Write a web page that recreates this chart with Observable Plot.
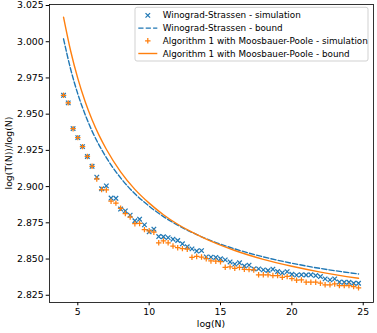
<!DOCTYPE html>
<html><head><meta charset="utf-8">
<script src="https://cdn.jsdelivr.net/npm/d3@7"></script>
<script src="https://cdn.jsdelivr.net/npm/@observablehq/plot@0.6"></script>
<style>
html,body{margin:0;padding:0;background:#fff;}
#chart svg{display:block;}
</style>
</head><body>
<div id="chart"></div>
<script>
// ---- data ----
const simX = [4, 4.33, 4.67, 5, 5.33, 5.67, 6, 6.33, 6.67, 7, 7.33, 7.67, 8, 8.33, 8.67, 9, 9.33, 9.67,
  10, 10.33, 10.67, 11, 11.33, 11.67, 12, 12.33, 12.67, 13, 13.33, 13.67, 14, 14.33, 14.67,
  15, 15.33, 15.67, 16, 16.33, 16.67, 17, 17.33, 17.67, 18, 18.33, 18.67, 19, 19.33, 19.67,
  20, 20.33, 20.67, 21, 21.33, 21.67, 22, 22.33, 22.67, 23, 23.33, 23.67, 24, 24.33, 24.67];

const wsSim = [2.9630, 2.9578, 2.9400, 2.9338, 2.9276, 2.9208, 2.9140, 2.9065, 2.8985, 2.9005,
  2.8921, 2.8919, 2.8845, 2.8832, 2.8803, 2.8764, 2.8775, 2.8736, 2.8688, 2.8706,
  2.8655, 2.8654, 2.8648, 2.8637, 2.8628, 2.8605, 2.8585, 2.8570, 2.8555, 2.8558,
  2.8515, 2.8513, 2.8511, 2.8502, 2.8494, 2.8480, 2.8465, 2.8474, 2.8452, 2.8458,
  2.8432, 2.8432, 2.8425, 2.8421, 2.8430, 2.8414, 2.8405, 2.8413, 2.8395, 2.8389,
  2.8391, 2.8390, 2.8391, 2.8386, 2.8379, 2.8363, 2.8356, 2.8363, 2.8341, 2.8340,
  2.8340, 2.8333, 2.8333];

const mpSim = [2.9630, 2.9578, 2.9400, 2.9338, 2.9276, 2.9208, 2.9140, 2.9053, 2.8980, 2.8977,
  2.8899, 2.8886, 2.8850, 2.8814, 2.8790, 2.8744, 2.8746, 2.8703, 2.8695, 2.8685,
  2.8612, 2.8625, 2.8612, 2.8590, 2.8578, 2.8572, 2.8568, 2.8512, 2.8518, 2.8514,
  2.8502, 2.8487, 2.8485, 2.8482, 2.8443, 2.8446, 2.8436, 2.8442, 2.8429, 2.8427,
  2.8425, 2.8391, 2.8391, 2.8391, 2.8386, 2.8386, 2.8374, 2.8380, 2.8365, 2.8354,
  2.8356, 2.8340, 2.8340, 2.8340, 2.8333, 2.8322, 2.8322, 2.8328, 2.8317, 2.8317,
  2.8317, 2.8310, 2.8301];

const boundX  = [4, 4.5, 5, 5.5, 6, 6.5, 7, 8, 9, 10, 11, 12, 13, 14, 16, 18, 20, 22, 24.67];
const wsBound = [3.0020, 2.9810, 2.9640, 2.9501, 2.9383, 2.9285, 2.9200, 2.9060, 2.8951, 2.8865,
  2.8793, 2.8734, 2.8684, 2.8640, 2.8570, 2.8515, 2.8471, 2.8435, 2.8397];
const mpBound = [3.0170, 2.9936, 2.9747, 2.9591, 2.9462, 2.9352, 2.9258, 2.9102, 2.8981, 2.8886,
  2.8806, 2.8740, 2.8685, 2.8637, 2.8559, 2.8498, 2.8450, 2.8410, 2.8367];

const xTicks = [5, 10, 15, 20, 25];
const yTicks = [2.825, 2.850, 2.875, 2.900, 2.925, 2.950, 2.975, 3.000, 3.025];
const xLabel = "log(N)";
const yLabel = "log(T(N))/log(N)";
const legendLabels = [
  "Winograd-Strassen - simulation",
  "Winograd-Strassen - bound",
  "Algorithm 1 with Moosbauer-Poole - simulation",
  "Algorithm 1 with Moosbauer-Poole - bound"
];

// ---- build tables ----
const simData = simX.map((x, i) => ({x, ws: wsSim[i], mp: mpSim[i]}));
const boundData = boundX.map((x, i) => ({x, ws: wsBound[i], mp: mpBound[i]}));

const BLUE = "#1f77b4", ORANGE = "#ff7f0e";
const FONT = "DejaVu Sans";
const rTimes = 2.2, rPlus = 1.9, symW = 1.25;

const plot = Plot.plot({
  width: 377, height: 333,
  marginLeft: 49, marginRight: 4, marginTop: 4, marginBottom: 31,
  style: {fontFamily: FONT, fontSize: "9.3px", background: "white", color: "black", overflow: "visible"},
  x: {domain: [3.017, 25.72], ticks: xTicks, tickFormat: d => String(d), tickSize: 3.3, tickPadding: 3, label: null},
  y: {domain: [2.8200, 3.0257], ticks: yTicks, tickFormat: d3.format(".3f"), tickSize: 3.3, tickPadding: 2.5, label: null},
  marks: [
    Plot.dot(simData, {x: "x", y: "ws", symbol: "times", r: rTimes, stroke: BLUE, strokeWidth: symW}),
    Plot.line(boundData, {x: "x", y: "ws", stroke: BLUE, strokeWidth: 1.4, strokeDasharray: "5.2,2.2", curve: "monotone-x"}),
    Plot.dot(simData, {x: "x", y: "mp", symbol: "plus", r: rPlus, stroke: ORANGE, strokeWidth: symW}),
    Plot.line(boundData, {x: "x", y: "mp", stroke: ORANGE, strokeWidth: 1.4, curve: "monotone-x"}),
    Plot.frame({stroke: "black", strokeWidth: 0.8})
  ]
});

document.getElementById("chart").appendChild(plot);

// ---- axis labels and legend ----
const svg = d3.select(plot);
svg.append("text")
  .attr("x", (49 + 373) / 2).attr("y", 323.5).attr("dy", "0.35em")
  .attr("text-anchor", "middle").attr("font-family", FONT).attr("font-size", "9.3px")
  .attr("fill", "black").text(xLabel);
svg.append("text")
  .attr("transform", `translate(9.5,${(4 + 302) / 2}) rotate(-90)`).attr("dy", "0.32em")
  .attr("text-anchor", "middle").attr("font-family", FONT).attr("font-size", "9.3px")
  .attr("fill", "black").text(yLabel);

const lg = svg.append("g").attr("text-anchor", "start");
const lgX = 135, lgY = 7.3, lgW = 233, lgH = 53.7;
lg.append("rect").attr("x", lgX).attr("y", lgY).attr("width", lgW).attr("height", lgH)
  .attr("rx", 2).attr("ry", 2)
  .style("fill", "white").style("fill-opacity", 0.8)
  .style("stroke", "#cccccc").style("stroke-width", 0.9);
const rowY0 = 15.4, rowDy = 12.7, hx0 = 138.3, hx1 = 157.3, tx = 162.7;
legendLabels.forEach((label, i) => {
  const y = rowY0 + i * rowDy;
  const cx = (hx0 + hx1) / 2;
  if (i === 0) {
    lg.append("path").attr("transform", `translate(${cx},${y})`)
      .attr("d", d3.symbol(d3.symbolTimes, Math.PI * rTimes * rTimes)())
      .style("fill", "none").style("stroke", BLUE).style("stroke-width", symW);
  } else if (i === 2) {
    lg.append("path").attr("transform", `translate(${cx},${y})`)
      .attr("d", d3.symbol(d3.symbolPlus, Math.PI * rPlus * rPlus)())
      .style("fill", "none").style("stroke", ORANGE).style("stroke-width", symW);
  } else {
    const ln = lg.append("line").attr("x1", hx0).attr("x2", hx1).attr("y1", y).attr("y2", y)
      .style("stroke", i === 1 ? BLUE : ORANGE).style("stroke-width", 1.4);
    if (i === 1) ln.style("stroke-dasharray", "5.2,2.2");
  }
  lg.append("text").attr("x", tx).attr("y", y).attr("dy", "0.35em")
    .attr("text-anchor", "start")
    .attr("font-family", FONT).attr("font-size", "8.8px").attr("fill", "black").text(label);
});
</script>
</body></html>
